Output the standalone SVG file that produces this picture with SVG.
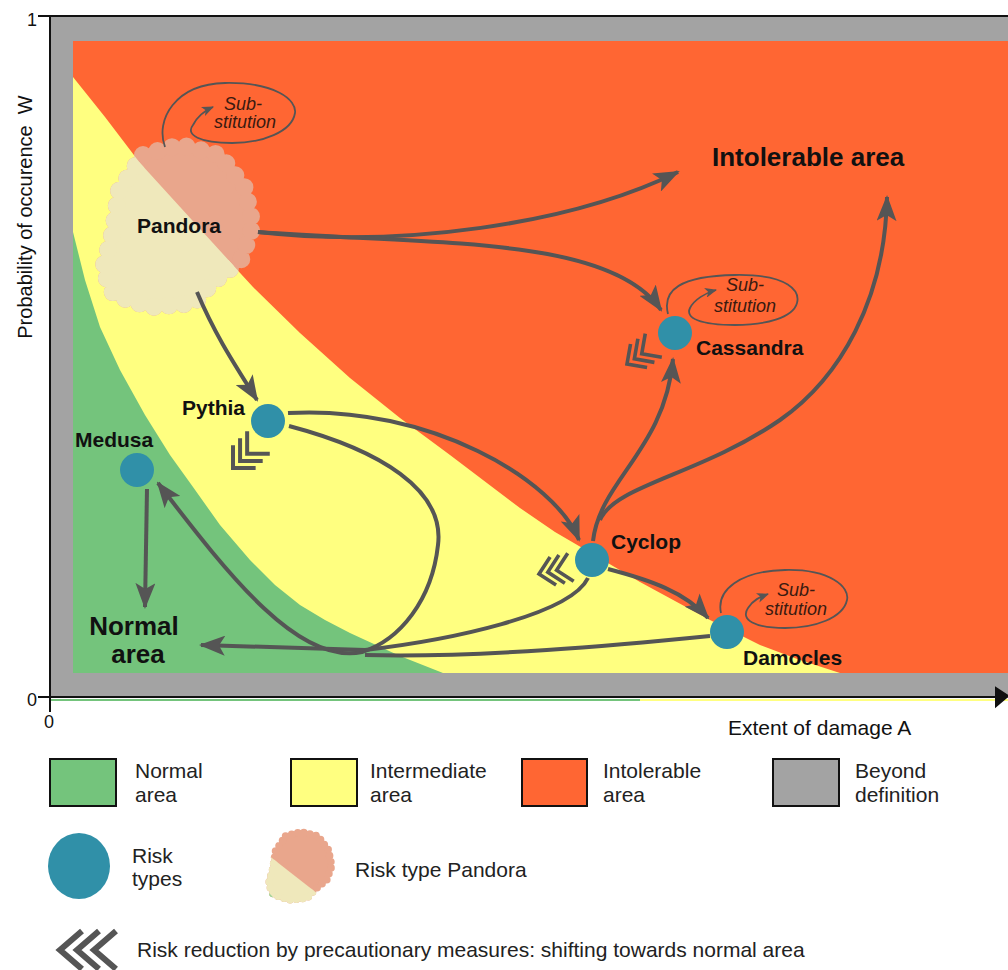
<svg xmlns="http://www.w3.org/2000/svg" xmlns:xlink="http://www.w3.org/1999/xlink" width="1008" height="970" viewBox="0 0 1008 970">
<style>
text{font-family:"Liberation Sans",Arial,sans-serif;fill:#111}
.lbl{font-weight:bold;font-size:21px}
.big{font-weight:bold;font-size:26px}
.leg{font-size:21px;fill:#222}
.sub{font-style:italic;font-size:18px;fill:#3a1a10;text-anchor:middle}
.arr{fill:none;stroke:#555;stroke-width:4;marker-end:url(#ah)}
.line{fill:none;stroke:#555;stroke-width:4}
.loop{fill:none;stroke:#555;stroke-width:1.8;marker-end:url(#sah)}
.chev{fill:none;stroke:#555;stroke-width:4}
.node{fill:#3090a8}
</style>
<defs>
<marker id="ah" markerUnits="userSpaceOnUse" viewBox="0 0 26 20" refX="24" refY="10" markerWidth="26" markerHeight="20" orient="auto"><path d="M0,0 L26,10 L0,20 L6,10 Z" fill="#555"/></marker>
<marker id="sah" markerUnits="userSpaceOnUse" viewBox="0 0 12 10" refX="11" refY="5" markerWidth="12" markerHeight="10" orient="auto"><path d="M0,0 L12,5 L0,10 L3,5 Z" fill="#555"/></marker>
<path id="blob" d="M143,155 L180,145 L220,155 L245,188 L253,226 L241,260 L212,283 L194,303 L151,307 L114,295 L103,269 L113,232 L119,191 Z" fill="currentColor" stroke="currentColor" stroke-width="18" stroke-dasharray="0 15" stroke-linecap="round" stroke-linejoin="round"/>
<g id="chv"><path class="chev" d="M16,-16 L0,0 L16,16 M26,-16 L10,0 L26,16 M36,-16 L20,0 L36,16"/></g>
<clipPath id="belowY"><polygon points="0,60 73,77 140,163 253,287 350,378 450,455 450,700 0,700"/></clipPath>
<clipPath id="legY"><polygon points="240,833 350,919 240,919"/></clipPath>
<clipPath id="legG"><polygon points="255,878 285,910 255,910"/></clipPath>
</defs>
<rect width="1008" height="970" fill="#fff"/>
<g id="plot-areas">
<rect x="50" y="17" width="958" height="681" fill="#a3a3a3"/>
<rect x="73" y="41" width="935" height="632" fill="#ff6633"/>
<polygon fill="#ffff80" points="73,77 105,117 140,163 195,224 253,287 300,333 350,378 400,418 450,455 520,508 555,532 591,553 640,582 710,620 760,645 800,660 840,673 73,673"/>
<polygon fill="#74c47c" points="73,232 85,280 100,327 120,370 145,415 170,455 193,487 220,525 250,560 275,585 300,605 325,620 350,633 400,656 443,673 73,673"/>
<rect x="50" y="699" width="590" height="2" fill="#74c47c"/>
<rect x="640" y="699" width="368" height="2" fill="#ffff80"/>
</g>
<g id="axes" stroke="#111" stroke-width="2" fill="none">
<line x1="38" y1="16" x2="1008" y2="16"/>
<line x1="50" y1="16" x2="50" y2="712"/>
<line x1="38" y1="697" x2="1000" y2="697"/>
<path d="M996,688 L1008,696 L996,706 Z" fill="#111"/>
</g>
<text x="37" y="26" font-size="18" text-anchor="end">1</text>
<text x="37" y="706" font-size="18" text-anchor="end">0</text>
<text x="49" y="728" font-size="18" text-anchor="middle">0</text>
<text transform="translate(32,217) rotate(-90)" font-size="20" text-anchor="middle">Probability of occurence&#160;&#160;W</text>
<text x="728" y="735" font-size="21">Extent of damage A</text>
<g id="pandora">
<use xlink:href="#blob" style="color:#e9a68c"/>
<g clip-path="url(#belowY)"><use xlink:href="#blob" style="color:#efe8bb"/></g>
<text class="lbl" x="137" y="233" font-size="20">Pandora</text>
</g>
<g id="connectors">
<path class="arr" d="M258,232 C400,248 570,225 678,172"/>
<path class="arr" d="M258,232 C430,245 610,235 661,310"/>
<path class="arr" d="M197,292 C215,335 235,365 257,400"/>
<path class="arr" d="M288,413 C430,405 555,480 579,540"/>
<path class="arr" d="M289,426 C380,450 445,490 438,545 C432,600 400,640 362,652 C300,665 232,580 158,483"/>
<path class="arr" d="M365,650 L201,645"/>
<path class="line" d="M588,578 C570,615 450,640 365,650"/>
<path class="line" d="M710,636 C620,645 480,658 365,655"/>
<path class="arr" d="M608,569 C650,580 685,592 708,618"/>
<path class="arr" d="M147,489 L145,607"/>
<path class="arr" d="M593,541 C600,480 665,450 673,359"/>
<path class="arr" d="M600,520 C615,485 700,475 780,420 C840,378 885,300 887,197"/>
<path class="loop" d="M165,147 C155,120 175,84 225,83 C275,82 297,100 295,113 C292,132 262,143 232,143 C200,143 185,135 193,125 C197,117 204,111 213,107"/>
<path class="loop" d="M668,314 C662,290 680,276 735,275 C790,274 800,292 797,303 C793,318 765,325 735,325 C700,325 685,318 690,308 C694,300 705,293 716,290"/>
<path class="loop" d="M721,613 C716,590 740,571 785,570 C830,569 850,587 847,600 C843,618 815,628 785,628 C755,628 740,620 748,608 C753,600 760,597 768,594"/>
<use xlink:href="#chv" transform="translate(233,468) rotate(-45)"/>
<use xlink:href="#chv" transform="translate(627,364) rotate(-35) scale(0.9)"/>
<use xlink:href="#chv" transform="translate(539,574) rotate(-12) scale(0.9)"/>
</g>
<text class="sub" x="243" y="110">Sub-</text>
<text class="sub" x="245" y="128">stitution</text>
<text class="sub" x="745" y="291">Sub-</text>
<text class="sub" x="745" y="312">stitution</text>
<text class="sub" x="796" y="596">Sub-</text>
<text class="sub" x="796" y="615">stitution</text>
<g id="pythia"><circle class="node" cx="268" cy="421" r="17"/><text class="lbl" x="182" y="415">Pythia</text></g>
<g id="medusa"><circle class="node" cx="137" cy="470" r="17"/><text class="lbl" x="75" y="447">Medusa</text></g>
<g id="cassandra"><circle class="node" cx="675" cy="333" r="17"/><text class="lbl" x="696" y="355">Cassandra</text></g>
<g id="cyclop"><circle class="node" cx="592" cy="560" r="17"/><text class="lbl" x="611" y="549">Cyclop</text></g>
<g id="damocles"><circle class="node" cx="727" cy="632" r="17"/><text class="lbl" x="743" y="665">Damocles</text></g>
<g id="intolerable-label"><text class="big" x="712" y="166">Intolerable area</text></g>
<g id="normal-label"><text class="big" x="134" y="635" text-anchor="middle">Normal</text><text class="big" x="138" y="663" text-anchor="middle">area</text></g>
<g id="legend">
<rect x="50" y="759" width="66" height="47" fill="#74c47c" stroke="#111" stroke-width="2"/>
<text class="leg" x="135" y="778">Normal</text><text class="leg" x="135" y="802">area</text>
<rect x="291" y="759" width="66" height="47" fill="#ffff80" stroke="#111" stroke-width="2"/>
<text class="leg" x="370" y="778">Intermediate</text><text class="leg" x="370" y="802">area</text>
<rect x="522" y="759" width="65" height="47" fill="#ff6633" stroke="#111" stroke-width="2"/>
<text class="leg" x="603" y="778">Intolerable</text><text class="leg" x="603" y="802">area</text>
<rect x="773" y="759" width="66" height="47" fill="#a3a3a3" stroke="#111" stroke-width="2"/>
<text class="leg" x="855" y="778">Beyond</text><text class="leg" x="855" y="802">definition</text>
<ellipse class="node" cx="79" cy="866" rx="31" ry="33"/>
<text class="leg" x="132" y="863">Risk</text><text class="leg" x="132" y="886">types</text>
<use xlink:href="#blob" transform="translate(225.5,770.9) scale(0.42)" style="color:#e9a68c"/>
<g clip-path="url(#legY)"><use xlink:href="#blob" transform="translate(225.5,770.9) scale(0.42)" style="color:#efe8bb"/></g>
<g clip-path="url(#legG)"><use xlink:href="#blob" transform="translate(225.5,770.9) scale(0.42)" style="color:#9fd39a"/></g>
<text class="leg" x="355" y="877">Risk type Pandora</text>
<path d="M82,931 L60,950 L82,969 M99,931 L77,950 L99,969 M116,931 L94,950 L116,969" fill="none" stroke="#555" stroke-width="6"/>
<text class="leg" x="137" y="957">Risk reduction by precautionary measures: shifting towards normal area</text>
</g>
</svg>
